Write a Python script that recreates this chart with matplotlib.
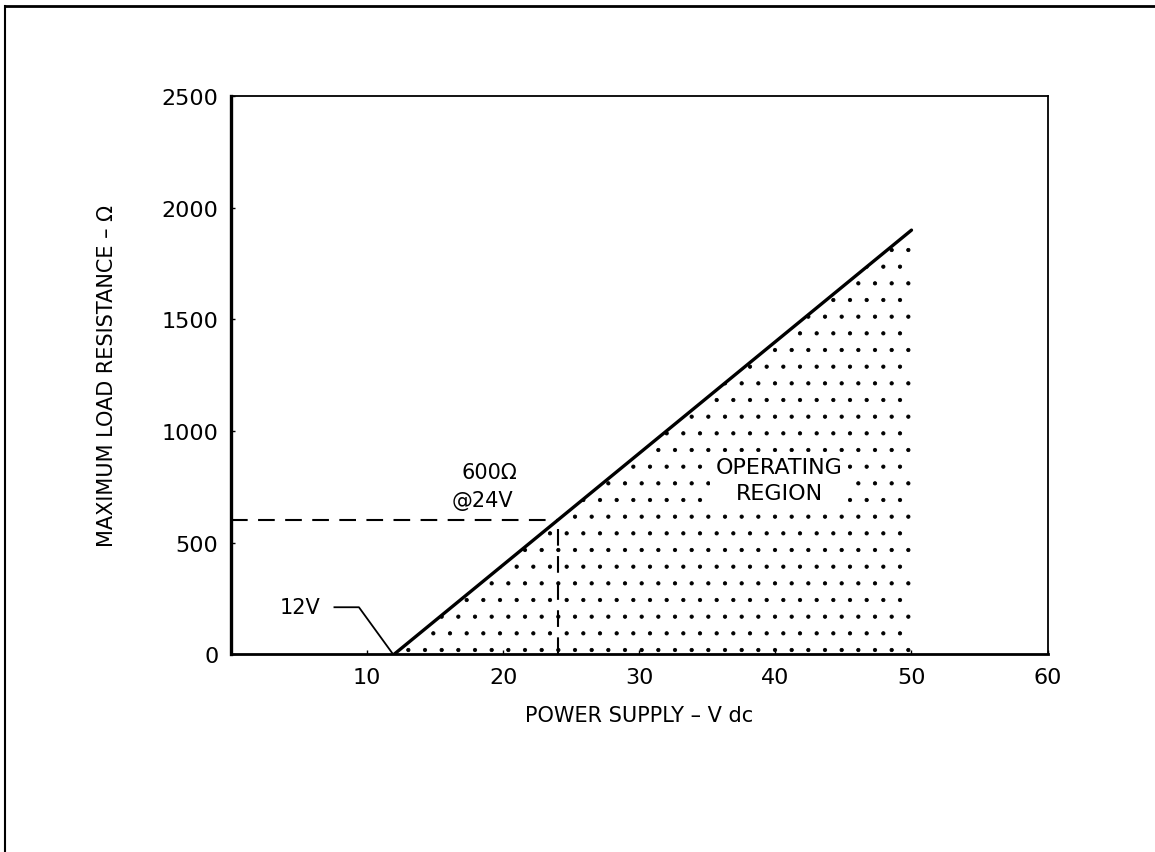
import numpy as np
import matplotlib
matplotlib.use("Agg")
import matplotlib.pyplot as plt
from matplotlib.lines import Line2D

# supply voltage (V dc) vs max load resistance (ohm)
supply_v = [12, 24, 50]
max_load = [0, 600, 1900]

# the 600 ohm @ 24 V marker
mark_v = 24
mark_r = 600

# leader for the "12V" label
leader_v = [7.6, 9.4, 11.9]
leader_r = [210, 210, 0]

x_ticks = [10, 20, 30, 40, 50, 60]
y_ticks = [0, 500, 1000, 1500, 2000, 2500]

plt.rcParams['font.family'] = ['DejaVu Sans']
plt.rcParams['hatch.linewidth'] = 0.6

fig = plt.figure(figsize=(11.55, 8.53), dpi=100)
ax = fig.add_axes([0.2, 0.232, 0.707, 0.654])

# operating region, stippled
ax.fill_between(supply_v, 0, max_load, facecolor='none', edgecolor='black',
                hatch='.', linewidth=0)
ax.plot(supply_v, max_load, color='black', lw=2.4, solid_capstyle='round')

# dashed marker lines
ax.plot([0, mark_v], [mark_r, mark_r], color='black', lw=1.5, dashes=(8, 5))
ax.plot([mark_v, mark_v], [0, mark_r], color='black', lw=1.5, dashes=(8, 5))

ax.plot(leader_v, leader_r, color='black', lw=1.3)
ax.text(leader_v[0] - 1.0, leader_r[0], '12V', fontsize=15, ha='right', va='center')

ax.text(19.0, 815, '600Ω', fontsize=15, ha='center', va='center')
ax.text(18.5, 690, '@24V', fontsize=15, ha='center', va='center')

ax.text(40.3, 780, 'OPERATING\nREGION', fontsize=16, ha='center', va='center',
        linespacing=1.35,
        bbox=dict(facecolor='white', edgecolor='none', pad=4))

ax.set_xlim(0, 60)
ax.set_ylim(0, 2500)
ax.set_xticks(x_ticks)
ax.set_yticks(y_ticks)
ax.tick_params(direction='in', length=3, width=1, labelsize=16, pad=9)

for side in ['top', 'right']:
    ax.spines[side].set_linewidth(1.3)
ax.spines['left'].set_linewidth(2.4)
ax.spines['bottom'].set_linewidth(2.0)

ax.set_xlabel('POWER SUPPLY – V dc', fontsize=15, labelpad=13)
ax.set_ylabel('MAXIMUM LOAD RESISTANCE – Ω', fontsize=15, labelpad=32)

# outer frame of the scanned page
fig.add_artist(Line2D([0.004, 1.0], [0.992, 0.992], color='black', lw=2.0,
                      transform=fig.transFigure))
fig.add_artist(Line2D([0.004, 0.004], [0.0, 0.992], color='black', lw=1.5,
                      transform=fig.transFigure))

fig.savefig('out.png', dpi=100)
